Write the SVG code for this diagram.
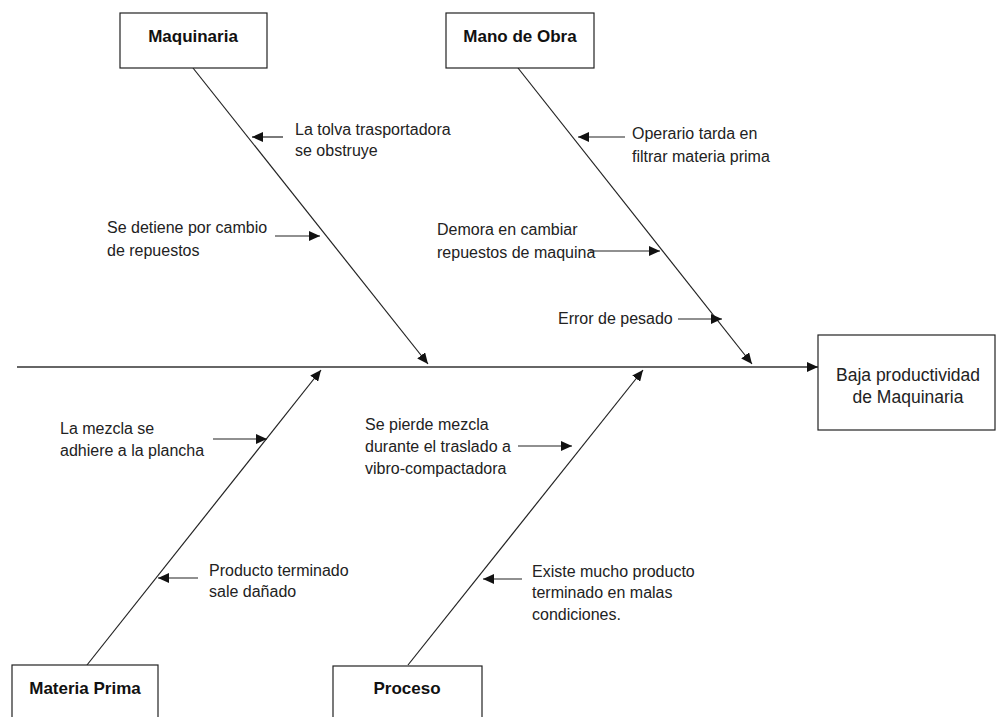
<svg xmlns="http://www.w3.org/2000/svg" width="997" height="717" viewBox="0 0 997 717">
<style>
.box{fill:#fff;stroke:#222;stroke-width:1.2}
.t{font-family:"Liberation Sans",Arial,sans-serif;font-size:16px;fill:#222}
.e{font-size:17.5px;text-anchor:middle}
.b{font-family:"Liberation Sans",Arial,sans-serif;font-size:17px;font-weight:bold;fill:#111;text-anchor:middle}
.ln{stroke:#222;stroke-width:1.2;fill:none;marker-end:url(#ah)}
.main{stroke:#333;stroke-width:1.6}
</style>
<defs>
<marker id="ah" markerUnits="userSpaceOnUse" markerWidth="12" markerHeight="10" refX="11" refY="5" orient="auto">
<path d="M0,0 L11,5 L0,10 Z" fill="#111"/>
</marker>
</defs>
<rect width="997" height="717" fill="#fff"/>
<g id="connectors">
<line class="ln main" x1="17" y1="367" x2="818" y2="367"/>
<line class="ln" x1="193" y1="68" x2="428" y2="364"/>
<line class="ln" x1="518" y1="68" x2="752" y2="364"/>
<line class="ln" x1="87" y1="665" x2="321" y2="370"/>
<line class="ln" x1="408" y1="665" x2="643" y2="370"/>
<line class="ln" x1="283" y1="137" x2="252" y2="137"/>
<line class="ln" x1="275" y1="236" x2="320" y2="236"/>
<line class="ln" x1="625" y1="137" x2="578" y2="137"/>
<line class="ln" x1="590" y1="251" x2="660" y2="251"/>
<line class="ln" x1="678" y1="319" x2="722" y2="319"/>
<line class="ln" x1="213" y1="439" x2="267" y2="439"/>
<line class="ln" x1="518" y1="446" x2="572" y2="446"/>
<line class="ln" x1="198" y1="578" x2="158" y2="578"/>
<line class="ln" x1="522" y1="579" x2="483" y2="579"/>
</g>
<g id="maquinaria">
<rect class="box" x="120" y="13" width="147" height="55"/>
<text class="b" x="193" y="42">Maquinaria</text>
</g>
<g id="mano-de-obra">
<rect class="box" x="446" y="13" width="148" height="55"/>
<text class="b" x="520" y="42">Mano de Obra</text>
</g>
<g id="materia-prima">
<rect class="box" x="12" y="665" width="146" height="60"/>
<text class="b" x="85" y="694">Materia Prima</text>
</g>
<g id="proceso">
<rect class="box" x="333" y="666" width="149" height="60"/>
<text class="b" x="407" y="694">Proceso</text>
</g>
<g id="efecto">
<rect class="box" x="818" y="335" width="177" height="95"/>
<text class="t e" x="908" y="381">Baja productividad</text>
<text class="t e" x="908" y="403">de Maquinaria</text>
</g>
<g id="causa-tolva">
<text class="t" x="295" y="135">La tolva trasportadora</text>
<text class="t" x="295" y="156">se obstruye</text>
</g>
<g id="causa-detiene">
<text class="t" x="107" y="233">Se detiene por cambio</text>
<text class="t" x="107" y="256">de repuestos</text>
</g>
<g id="causa-operario">
<text class="t" x="632" y="139">Operario tarda en</text>
<text class="t" x="632" y="162">filtrar materia prima</text>
</g>
<g id="causa-demora">
<text class="t" x="437" y="235">Demora en cambiar</text>
<text class="t" x="437" y="258">repuestos de maquina</text>
</g>
<g id="causa-pesado">
<text class="t" x="558" y="324">Error de pesado</text>
</g>
<g id="causa-mezcla">
<text class="t" x="60" y="434">La mezcla se</text>
<text class="t" x="60" y="456">adhiere a la plancha</text>
</g>
<g id="causa-pierde">
<text class="t" x="365" y="430">Se pierde mezcla</text>
<text class="t" x="365" y="452">durante el traslado a</text>
<text class="t" x="365" y="474">vibro-compactadora</text>
</g>
<g id="causa-producto">
<text class="t" x="209" y="576">Producto terminado</text>
<text class="t" x="209" y="597">sale dañado</text>
</g>
<g id="causa-existe">
<text class="t" x="532" y="577">Existe mucho producto</text>
<text class="t" x="532" y="598">terminado en malas</text>
<text class="t" x="532" y="620">condiciones.</text>
</g>
</svg>
